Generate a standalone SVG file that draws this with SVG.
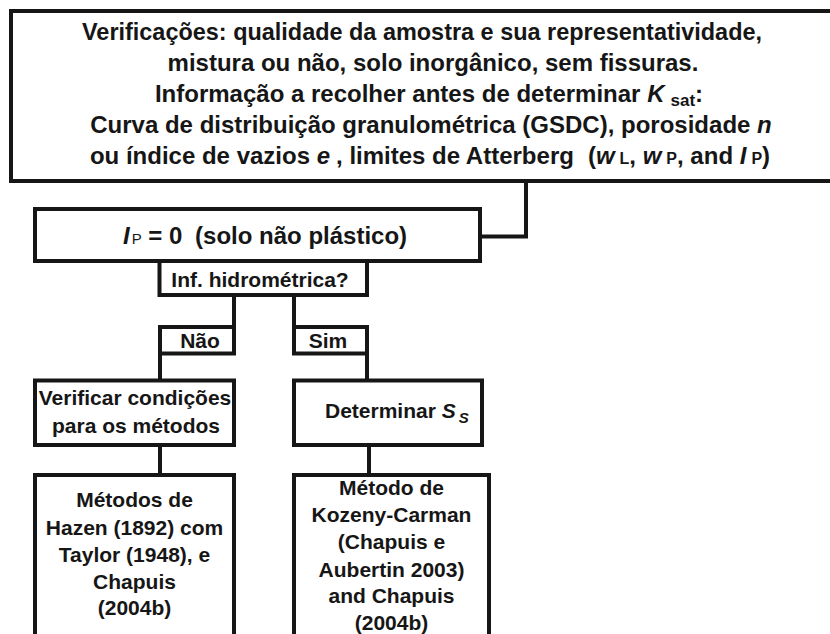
<svg xmlns="http://www.w3.org/2000/svg" width="830" height="634" viewBox="0 0 830 634">
<style>
.b{fill:#fff;stroke:#161616;stroke-width:4}
.c{fill:none;stroke:#161616;stroke-width:4}
text{font-family:"Liberation Sans",Arial,Helvetica,sans-serif;font-weight:bold;font-size:21px;fill:#161616}
.m{text-anchor:middle}
.i{font-style:italic}
.s{font-size:16px}
.tt{font-size:24px}
</style>
<rect width="830" height="634" fill="#fff"/>
<g id="connectors">
<path class="c" d="M526,181 V236.5 H480"/>
<path class="c" d="M234,295 V327"/>
<path class="c" d="M294,295 V353.5"/>
<path class="c" d="M160,353.5 V380.5"/>
<path class="c" d="M367,353.5 V380.5"/>
<path class="c" d="M160,445 V475"/>
<path class="c" d="M369,445 V475"/>
</g>
<g id="top">
<rect class="b" x="11" y="11" width="840" height="170"/>
<text class="m tt" x="422" y="40" textLength="680" lengthAdjust="spacingAndGlyphs">Verificações: qualidade da amostra e sua representatividade,</text>
<text class="m tt" x="433" y="71">mistura ou não, solo inorgânico, sem fissuras.</text>
<text class="m tt" x="429" y="102">Informação a recolher antes de determinar <tspan class="i">K</tspan><tspan class="s" style="font-size:17px" dx="6" dy="4">sat</tspan><tspan dy="-4">:</tspan></text>
<text class="m tt" x="431" y="133">Curva de distribuição granulométrica (GSDC), porosidade <tspan class="i">n</tspan></text>
<text class="m tt" x="430" y="164">ou índice de vazios <tspan class="i">e</tspan><tspan dx="6">, limites de Atterberg</tspan><tspan dx="14">(</tspan><tspan class="i">w</tspan><tspan class="s" dx="5">L</tspan>, <tspan class="i">w</tspan><tspan class="s" dx="5">P</tspan>, and <tspan class="i">I</tspan><tspan class="s" dx="5">P</tspan>)</text>
</g>
<g id="ip">
<rect class="b" x="35" y="209" width="445" height="52"/>
<text x="123" y="244" style="font-size:24px"><tspan class="i">I</tspan><tspan style="font-size:15px;font-weight:normal" dx="2">P</tspan> = 0 <tspan dx="6">(solo não plástico)</tspan></text>
</g>
<g id="inf">
<rect class="b" x="159.5" y="261" width="207.5" height="34"/>
<text class="m" x="260" y="287">Inf. hidrométrica?</text>
</g>
<g id="nao">
<rect class="b" x="160" y="327" width="74" height="26.5"/>
<text class="m" x="200" y="348">Não</text>
</g>
<g id="sim">
<rect class="b" x="294" y="327" width="73" height="26.5"/>
<text class="m" x="328" y="348">Sim</text>
</g>
<g id="verificar">
<rect class="b" x="35" y="380.5" width="199" height="64.5"/>
<text class="m" x="135" y="405">Verificar condições</text>
<text class="m" x="136" y="433">para os métodos</text>
</g>
<g id="determinar">
<rect class="b" x="294" y="380.5" width="188" height="64.5"/>
<text x="325" y="418">Determinar <tspan class="i">S</tspan><tspan class="i" style="font-size:15px" dx="3" dy="5">S</tspan></text>
</g>
<g id="metodos">
<rect class="b" x="35" y="475" width="199" height="200"/>
<text class="m" x="134.5" y="507">Métodos de</text>
<text class="m" x="134.5" y="535">Hazen (1892) com</text>
<text class="m" x="134.5" y="562">Taylor (1948), e</text>
<text class="m" x="134.5" y="589">Chapuis</text>
<text class="m" x="134.5" y="615">(2004b)</text>
</g>
<g id="kozeny">
<rect class="b" x="294" y="475" width="195" height="200"/>
<text class="m" x="391.5" y="495">Método de</text>
<text class="m" x="391.5" y="522">Kozeny-Carman</text>
<text class="m" x="391.5" y="549">(Chapuis e</text>
<text class="m" x="391.5" y="577">Aubertin 2003)</text>
<text class="m" x="391.5" y="603">and Chapuis</text>
<text class="m" x="391.5" y="630">(2004b)</text>
</g>
</svg>
